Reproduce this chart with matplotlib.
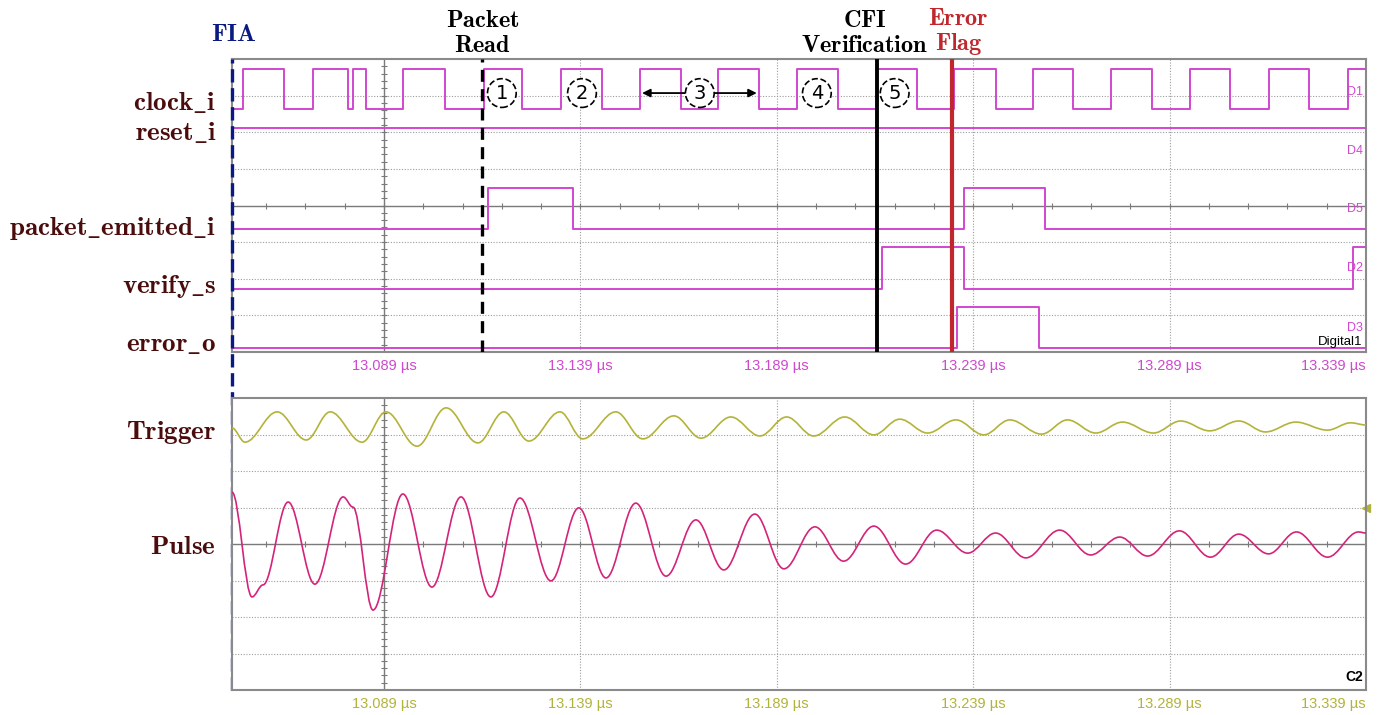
import numpy as np
import matplotlib
matplotlib.use("Agg")
import matplotlib.pyplot as plt
from matplotlib.path import Path
from matplotlib.patches import PathPatch

plt.rcParams["mathtext.fontset"] = "cm"

# time axis (µs)
t_start, t_end = 13.0503, 13.339
tick_times = [13.089, 13.139, 13.189, 13.239, 13.289, 13.339]

# digital channels: edge times (µs), each edge toggles the level
clock_edges = [13.0531, 13.0636, 13.0709, 13.0798, 13.0811, 13.0844, 13.0938, 13.1045,
               13.1144, 13.1241, 13.1340, 13.1445, 13.1541, 13.1646, 13.1740, 13.1844,
               13.1941, 13.2045, 13.2144, 13.2246, 13.2340, 13.2447, 13.2541, 13.2643,
               13.2742, 13.2844, 13.2943, 13.3045, 13.3142, 13.3244, 13.3344]
reset_edges = []
packet_edges = [13.1155, 13.1371, 13.2366, 13.2572]
verify_edges = [13.2157, 13.2366, 13.3358]
error_edges = [13.2348, 13.2557]

# analog channels: turning points (time µs, level in divisions)
trigger_t = [13.0503, 13.0536, 13.0618, 13.0692, 13.0753, 13.0834, 13.0895, 13.0974,
             13.1048, 13.1129, 13.1195, 13.1259, 13.1338, 13.1396, 13.1480, 13.1549,
             13.1628, 13.1697, 13.1773, 13.1847, 13.1915, 13.1984, 13.2063, 13.2137,
             13.2203, 13.2274, 13.2346, 13.2417, 13.2483, 13.2564, 13.2630, 13.2702,
             13.2770, 13.2849, 13.2918, 13.2992, 13.3066, 13.3134, 13.3211, 13.3292,
             13.3351, 13.3390]
trigger_v = [7.18, 6.79, 7.62, 6.85, 7.62, 6.79, 7.62, 6.68,
             7.73, 6.77, 7.62, 6.82, 7.62, 6.88, 7.62, 6.88,
             7.51, 6.90, 7.48, 6.96, 7.48, 6.96, 7.48, 6.99,
             7.42, 7.04, 7.40, 6.99, 7.40, 7.01, 7.40, 7.04,
             7.34, 7.04, 7.37, 7.10, 7.37, 7.07, 7.34, 7.12,
             7.32, 7.26]
pulse_t = [13.0503, 13.0554, 13.0582, 13.0646, 13.0714, 13.0786, 13.0811, 13.0862,
           13.0938, 13.1012, 13.1086, 13.1162, 13.1236, 13.1315, 13.1386, 13.1455,
           13.1531, 13.1608, 13.1684, 13.1755, 13.1834, 13.1908, 13.1987, 13.2060,
           13.2137, 13.2218, 13.2297, 13.2376, 13.2447, 13.2524, 13.2610, 13.2689,
           13.2763, 13.2834, 13.2915, 13.2994, 13.3066, 13.3142, 13.3213, 13.3292,
           13.3371, 13.3390]
pulse_v = [5.42, 2.55, 2.88, 5.15, 2.90, 5.29, 5.01, 2.19,
           5.37, 2.82, 5.29, 2.55, 5.26, 2.99, 4.99, 3.07,
           5.12, 3.12, 4.66, 3.29, 4.82, 3.32, 4.47, 3.53,
           4.49, 3.45, 4.38, 3.75, 4.30, 3.62, 4.38, 3.70,
           4.19, 3.67, 4.36, 3.64, 4.27, 3.73, 4.33, 3.64,
           4.33, 4.30]

# annotation events (µs)
fia_time = 13.0503
packet_read_time = 13.1139
cfi_time = 13.2144
error_flag_time = 13.2335
step_labels = ["1", "2", "3", "4", "5"]
step_times = [13.1190, 13.1394, 13.1694, 13.1992, 13.2190]
step3_span = [13.1547, 13.1839]

W, H = 1381, 715
fig = plt.figure(figsize=(W / 100, H / 100), dpi=100)


def box(l, t, r, b):
    return [l / W, 1 - b / H, (r - l) / W, (b - t) / H]


ax1 = fig.add_axes(box(232, 59, 1366, 352))
ax2 = fig.add_axes(box(232, 398, 1366, 690))

grid_c = "#9c9c9c"
axis_c = "#7a7a7a"
mag = "#d048d0"
olive = "#b3b33a"
pulse_c = "#d4247a"
label_c = "#4a0c0c"


def scope_grid(ax, tick_color):
    ax.set_xlim(t_start, t_end)
    ax.set_ylim(0, 8)
    for d in [1, 2, 3, 5, 6, 7]:
        ax.axhline(d, color=grid_c, lw=0.8, ls=(0, (1, 1.5)), zorder=0)
    ax.axhline(4, color=axis_c, lw=1.0, zorder=0)
    for t in tick_times[1:-1]:
        ax.axvline(t, color=grid_c, lw=0.8, ls=(0, (1, 1.5)), zorder=0)
    ax.axvline(tick_times[0], color=axis_c, lw=1.0, zorder=0)
    mx = np.arange(13.059, t_end, 0.01)
    ax.plot(mx, np.full(len(mx), 4.0), ls="none", marker="|", ms=5, mew=0.8, color=axis_c, zorder=0)
    my = np.arange(0.2, 8, 0.2)
    ax.plot(np.full(len(my), tick_times[0]), my, ls="none", marker="_", ms=5, mew=0.8, color=axis_c, zorder=0)
    for s in ax.spines.values():
        s.set_color("#8a8a8a")
        s.set_linewidth(1.5)
    ax.set_yticks([])
    ax.set_xticks(tick_times)
    ax.set_xticklabels([f"{t:.3f} µs" for t in tick_times], color=tick_color,
                       fontfamily="Liberation Sans", fontsize=10.5)
    ax.tick_params(axis="x", length=0, pad=5)
    ax.get_xticklabels()[-1].set_ha("right")


scope_grid(ax1, mag)
scope_grid(ax2, olive)


def step_trace(ax, edges, base, height):
    ts = [t_start] + list(edges) + [t_end]
    lv = [(i % 2) for i in range(len(edges) + 1)]
    lv.append(lv[-1])
    ax.step(ts, base + height * np.array(lv), where="post", color=mag, lw=1.4, zorder=3)


step_trace(ax1, clock_edges, 6.63, 1.10)
step_trace(ax1, reset_edges, 6.11, 0.0)
step_trace(ax1, packet_edges, 3.36, 1.12)
step_trace(ax1, verify_edges, 1.72, 1.14)
step_trace(ax1, error_edges, 0.10, 1.12)


def smooth(ax, ts, vs, color):
    verts = [(ts[0], vs[0])]
    codes = [Path.MOVETO]
    for i in range(1, len(ts)):
        dt = ts[i] - ts[i - 1]
        verts += [(ts[i - 1] + 0.36 * dt, vs[i - 1]), (ts[i] - 0.36 * dt, vs[i]), (ts[i], vs[i])]
        codes += [Path.CURVE4] * 3
    ax.add_patch(PathPatch(Path(verts, codes), fill=False, ec=color, lw=1.2, zorder=3))


smooth(ax2, trigger_t, trigger_v, olive)
smooth(ax2, pulse_t, pulse_v, pulse_c)

# channel tags
for name, d in zip(["D1", "D4", "D5", "D2", "D3"], [7.1, 5.5, 3.9, 2.3, 0.65]):
    ax1.text(13.3362, d, name, color=mag, fontsize=9, fontfamily="Liberation Sans",
             ha="center", va="center", zorder=4)
ax1.text(0.997, 0.015, "Digital1", transform=ax1.transAxes, ha="right", va="bottom",
         fontsize=9.5, fontfamily="Liberation Sans")
ax2.text(0.997, 0.02, "C2", transform=ax2.transAxes, ha="right", va="bottom",
         fontsize=10, fontweight="bold", fontfamily="Liberation Sans")
ax2.plot([1.0], [5.0], transform=ax2.get_yaxis_transform(), marker="<", ms=6,
         color=olive, clip_on=False, ls="none")

# event lines
span_low = (352 - 690) / (352 - 59)
ax1.plot([fia_time, fia_time], [span_low, 1.0], transform=ax1.get_xaxis_transform(),
         clip_on=False, color="#0b1a80", lw=2.4, ls=(0, (4, 1.7)), zorder=6)
ax1.axvline(packet_read_time, color="black", lw=2.4, ls=(0, (3.6, 2.2)), zorder=5)
ax1.axvline(cfi_time, color="black", lw=2.8, zorder=5)
ax1.axvline(error_flag_time, color="#c0272d", lw=3.0, zorder=5)

# circled steps
for lab, t in zip(step_labels, step_times):
    ax1.text(t, 7.07, lab, ha="center", va="center", fontsize=14, zorder=7,
             bbox=dict(boxstyle="circle,pad=0.25", fc="white", ec="black", ls="--", lw=1.2))
for end in step3_span:
    ax1.annotate("", xy=(end, 7.07), xytext=(step_times[2], 7.07),
                 arrowprops=dict(arrowstyle="-|>", color="black", lw=1.3, shrinkA=10, shrinkB=0,
                                 mutation_scale=12), zorder=6)

xt = ax1.get_xaxis_transform()
ax1.text(13.0508, 1.085, r"$\mathbf{FIA}$", transform=xt, ha="center", va="center",
         color="#0b1a80", fontsize=18)
ax1.text(13.1141, 1.09, "$\\mathbf{Packet}$\n$\\mathbf{Read}$", transform=xt, ha="center",
         va="center", fontsize=17.5, linespacing=1.05)
ax1.text(13.2114, 1.09, "$\\mathbf{CFI}$\n$\\mathbf{Verification}$", transform=xt, ha="center",
         va="center", fontsize=17.5, linespacing=1.05)
ax1.text(13.2353, 1.095, "$\\mathbf{Error}$\n$\\mathbf{Flag}$", transform=xt, ha="center",
         va="center", fontsize=17.5, linespacing=1.05, color="#c0272d")

# signal names
names = [r"clock\_i", r"reset\_i", r"packet\_emitted\_i", r"verify\_s", r"error\_o", "Trigger", "Pulse"]
name_y = [103, 133, 229, 287, 344, 432, 547]
for n, py in zip(names, name_y):
    fig.text(216 / W, 1 - py / H, r"$\mathbf{" + n + "}$", ha="right", va="center",
             color=label_c, fontsize=19.5)

fig.savefig("out.png", dpi=100)
